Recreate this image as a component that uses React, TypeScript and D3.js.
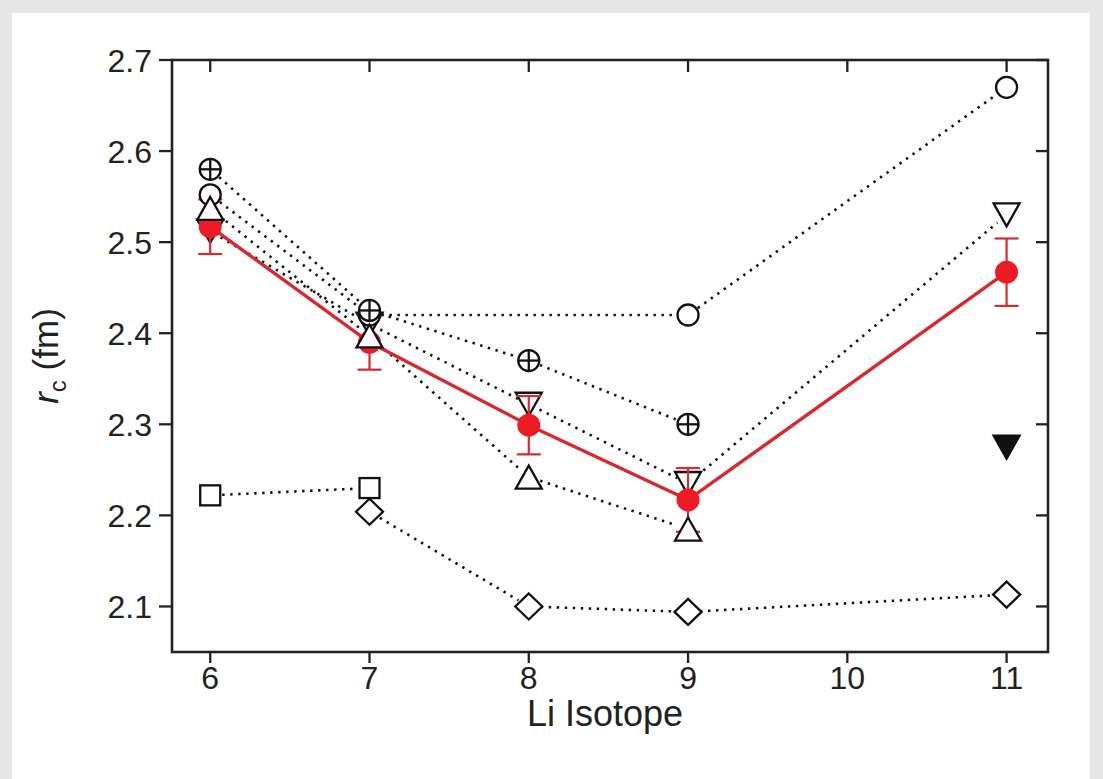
import React from "react";
import * as d3 from "d3";

// ---- data ----
const xTicks = [6, 7, 8, 9, 10, 11];
const yTicks = [2.1, 2.2, 2.3, 2.4, 2.5, 2.6, 2.7];

const expX = [6, 7, 8, 9, 11];
const expY = [2.517, 2.39, 2.299, 2.217, 2.467];
const expErr = [0.03, 0.03, 0.032, 0.035, 0.037];

const circX = [6, 7, 9, 11];
const circY = [2.552, 2.42, 2.42, 2.67];

const crossX = [6, 7, 8, 9];
const crossY = [2.58, 2.425, 2.37, 2.3];

const downX = [6, 7, 8, 9, 11];
const downY = [2.512, 2.41, 2.322, 2.235, 2.53];

const upX = [6, 7, 8, 9];
const upY = [2.537, 2.397, 2.242, 2.185];

const sqX = [6, 7];
const sqY = [2.222, 2.23];

const diaX = [7, 8, 9, 11];
const diaY = [2.204, 2.1, 2.094, 2.113];

const filledX = [11];
const filledY = [2.275];

const W = 1103;
const H = 779;
const L = 172, R = 1048, T = 60, B = 652;

const x = d3.scaleLinear().domain([5.76, 11.26]).range([L, R]);
const y = d3.scaleLinear().domain([2.05, 2.7]).range([B, T]);

const FONT = "'Liberation Sans', Arial, Helvetica, sans-serif";
const RED_LINE = "#d42a30";
const RED_FILL = "#ec1c26";

type Pt = [number, number];

function trimmedSegments(xs: number[], ys: number[], gap: number): Pt[][] {
  const segs: Pt[][] = [];
  for (let i = 0; i < xs.length - 1; i++) {
    const x1 = x(xs[i]), y1 = y(ys[i]), x2 = x(xs[i + 1]), y2 = y(ys[i + 1]);
    const dx = x2 - x1, dy = y2 - y1;
    const len = Math.hypot(dx, dy);
    if (len <= 2 * gap) continue;
    const ux = dx / len, uy = dy / len;
    segs.push([
      [x1 + ux * gap, y1 + uy * gap],
      [x2 - ux * gap, y2 - uy * gap],
    ]);
  }
  return segs;
}

const line = d3.line<Pt>();

function Dotted({ xs, ys }: { xs: number[]; ys: number[] }) {
  return (
    <g>
      {trimmedSegments(xs, ys, 12).map((s, i) => (
        <path
          key={i}
          d={line(s) || ""}
          fill="none"
          stroke="#111"
          strokeWidth={2.6}
          strokeDasharray="2.4 5.6"
        />
      ))}
    </g>
  );
}

function Marker({ kind, cx, cy }: { kind: string; cx: number; cy: number }) {
  const sw = 2.3;
  const st = "#111";
  if (kind === "circle")
    return <circle cx={cx} cy={cy} r={10.5} fill="white" stroke={st} strokeWidth={sw} />;
  if (kind === "cross")
    return (
      <g>
        <circle cx={cx} cy={cy} r={10.5} fill="white" stroke={st} strokeWidth={sw} />
        <line x1={cx - 10.5} x2={cx + 10.5} y1={cy} y2={cy} stroke={st} strokeWidth={sw} />
        <line x1={cx} x2={cx} y1={cy - 10.5} y2={cy + 10.5} stroke={st} strokeWidth={sw} />
      </g>
    );
  if (kind === "up")
    return (
      <path
        d={`M${cx},${cy - 11.5}L${cx + 13},${cy + 11.5}L${cx - 13},${cy + 11.5}Z`}
        fill="white"
        stroke={st}
        strokeWidth={sw}
      />
    );
  if (kind === "down" || kind === "filled")
    return (
      <path
        d={`M${cx - 13},${cy - 11.5}L${cx + 13},${cy - 11.5}L${cx},${cy + 11.5}Z`}
        fill={kind === "filled" ? "#111" : "white"}
        stroke={st}
        strokeWidth={sw}
      />
    );
  if (kind === "square")
    return <rect x={cx - 10} y={cy - 10} width={20} height={20} fill="white" stroke={st} strokeWidth={sw} />;
  if (kind === "diamond")
    return (
      <path
        d={`M${cx},${cy - 13}L${cx + 13.5},${cy}L${cx},${cy + 13}L${cx - 13.5},${cy}Z`}
        fill="white"
        stroke={st}
        strokeWidth={sw}
      />
    );
  return null;
}

function Series({ xs, ys, kind }: { xs: number[]; ys: number[]; kind: string }) {
  return (
    <g>
      {xs.map((v, i) => (
        <Marker key={i} kind={kind} cx={x(v)} cy={y(ys[i])} />
      ))}
    </g>
  );
}

export default function App() {
  const expPts: Pt[] = expX.map((v, i) => [x(v), y(expY[i])]);
  return (
    <svg
      width={W}
      height={H}
      style={{ position: "absolute", left: 0, top: 0, display: "block" }}
      fontFamily={FONT}
    >
      <rect x={0} y={0} width={W} height={H} fill="#e6e6e6" />
      <rect x={12} y={13} width={1078} height={H - 13} fill="#ffffff" />

      {/* dotted theory lines */}
      <Dotted xs={circX} ys={circY} />
      <Dotted xs={crossX} ys={crossY} />
      <Dotted xs={downX} ys={downY} />
      <Dotted xs={upX} ys={upY} />
      <Dotted xs={sqX} ys={sqY} />
      <Dotted xs={diaX} ys={diaY} />

      <Series xs={downX} ys={downY} kind="down" />

      {/* experiment */}
      <path d={line(expPts) || ""} fill="none" stroke={RED_LINE} strokeWidth={3.4} />
      {expX.map((v, i) => {
        const cx = x(v);
        const y1 = y(expY[i] + expErr[i]);
        const y2 = y(expY[i] - expErr[i]);
        return (
          <g key={i} stroke={RED_LINE} strokeWidth={2.2}>
            <line x1={cx} x2={cx} y1={y1} y2={y2} />
            <line x1={cx - 12} x2={cx + 12} y1={y1} y2={y1} />
            <line x1={cx - 12} x2={cx + 12} y1={y2} y2={y2} />
          </g>
        );
      })}
      {expPts.map((p, i) => (
        <circle key={i} cx={p[0]} cy={p[1]} r={11.5} fill={RED_FILL} />
      ))}

      {/* theory markers */}
      <Series xs={circX} ys={circY} kind="circle" />
      <Series xs={crossX} ys={crossY} kind="cross" />
      <Series xs={upX} ys={upY} kind="up" />
      <Series xs={sqX} ys={sqY} kind="square" />
      <Series xs={diaX} ys={diaY} kind="diamond" />
      <Series xs={filledX} ys={filledY} kind="filled" />

      {/* frame */}
      <rect x={L} y={T} width={R - L} height={B - T} fill="none" stroke="#222" strokeWidth={2.6} />

      {/* x ticks */}
      {xTicks.map((t) => (
        <g key={t}>
          <line x1={x(t)} x2={x(t)} y1={B} y2={B + 11} stroke="#222" strokeWidth={2.3} />
          <line x1={x(t)} x2={x(t)} y1={T} y2={T + 12} stroke="#222" strokeWidth={2.3} />
          <text x={x(t)} y={B + 37} textAnchor="middle" fontSize={32} fill="#222">
            {t}
          </text>
        </g>
      ))}
      {/* y ticks */}
      {yTicks.map((t) => (
        <g key={t}>
          <line x1={L - 13} x2={L} y1={y(t)} y2={y(t)} stroke="#222" strokeWidth={2.3} />
          <line x1={R - 12} x2={R} y1={y(t)} y2={y(t)} stroke="#222" strokeWidth={2.3} />
          <text x={L - 20} y={y(t) + 11.5} textAnchor="end" fontSize={32} fill="#222">
            {t.toFixed(1)}
          </text>
        </g>
      ))}

      <text x={(L + R) / 2 - 5} y={726} textAnchor="middle" fontSize={36} fill="#222">
        Li Isotope
      </text>
      <text
        transform={`translate(58, ${(T + B) / 2}) rotate(-90)`}
        textAnchor="middle"
        fontSize={35}
        fill="#222"
      >
        <tspan fontStyle="italic">r</tspan>
        <tspan fontSize={24} dy={8}>c</tspan>
        <tspan dy={-8}> (fm)</tspan>
      </text>
    </svg>
  );
}
